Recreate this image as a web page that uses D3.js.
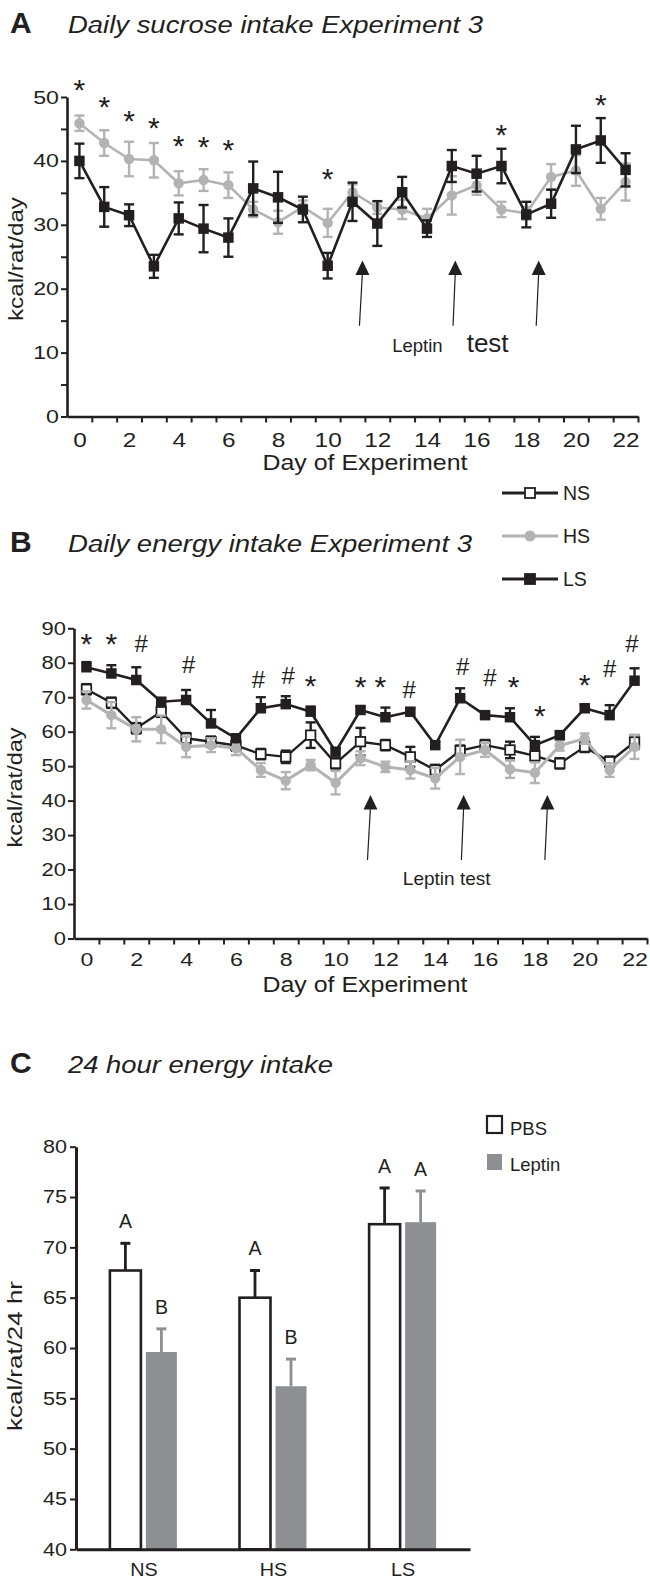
<!DOCTYPE html>
<html>
<head>
<meta charset="utf-8">
<script src="https://cdn.jsdelivr.net/npm/d3@7"></script>
<style>
  body { margin: 0; background: #fff; }
  svg text { font-family: "Liberation Sans", Arial, Helvetica, sans-serif; fill: #231f20; }
</style>
</head>
<body>
<svg id="fig" width="650" height="1583"></svg>
<script>
// ---- panel A: daily sucrose intake (kcal/rat/day), days 0..22
const days = d3.range(0, 23);
const sucroseHS    = [45.9, 42.8, 40.3, 40.1, 36.5, 37.0, 36.2, 32.4, 30.4, 32.8, 30.3, 35.1, 32.7, 32.4, 31.0, 34.6, 36.2, 32.4, 31.8, 37.5, 38.5, 32.5, 36.7];
const sucroseHSErr = [1.2, 2.0, 2.7, 2.7, 1.9, 1.7, 2.0, 1.2, 1.8, 1.0, 2.2, 1.2, 1.0, 1.5, 1.5, 3.0, 1.5, 1.2, 1.0, 2.0, 2.4, 1.7, 2.9];
const sucroseLS    = [40.0, 32.8, 31.5, 23.5, 31.0, 29.4, 28.0, 35.7, 34.3, 32.4, 23.6, 33.6, 30.2, 35.1, 29.4, 39.2, 38.0, 39.2, 31.6, 33.3, 41.8, 43.2, 38.6];
const sucroseLSErr = [2.7, 3.1, 1.7, 1.8, 2.5, 3.7, 3.0, 4.2, 4.0, 2.0, 2.0, 3.0, 3.5, 2.4, 1.3, 2.5, 2.8, 2.7, 2.0, 2.2, 3.7, 3.5, 2.6];
const sucroseStarDays  = [0, 1, 2, 3, 4, 5, 6, 10, 17, 21];
const sucroseStarLevel = [52.2, 49.5, 47.3, 46.3, 43.5, 43.2, 42.8, 38.3, 45.1, 49.8];

// ---- panel B: daily energy intake (kcal/rat/day)
const energyNS    = [72.3, 68.4, 61.0, 65.8, 58.1, 57.1, 56.0, 53.5, 52.7, 59.0, 50.8, 57.1, 56.1, 52.7, 48.9, 54.5, 56.1, 54.7, 53.0, 50.8, 55.6, 51.3, 57.0];
const energyNSErr = [1.5, 1.5, 1.5, 1.5, 1.5, 1.5, 1.5, 1.5, 1.8, 3.7, 1.5, 4.0, 1.5, 2.9, 1.5, 1.5, 1.5, 2.4, 1.5, 1.5, 1.5, 1.5, 2.0];
const energyHS    = [69.2, 64.8, 60.7, 60.7, 55.6, 56.1, 55.2, 48.9, 45.8, 50.3, 45.2, 52.3, 49.8, 48.9, 46.5, 52.7, 54.7, 49.1, 48.1, 56.0, 58.0, 48.9, 55.6];
const energyHSErr = [2.5, 3.8, 3.5, 4.0, 3.0, 2.0, 2.0, 2.0, 2.5, 1.5, 3.4, 2.0, 1.5, 2.5, 3.0, 5.0, 2.0, 2.5, 3.0, 1.5, 1.5, 2.0, 3.5];
const energyLS    = [78.7, 76.9, 75.0, 68.7, 69.2, 62.4, 58.1, 66.8, 68.0, 65.8, 54.2, 66.3, 64.2, 65.8, 56.1, 69.7, 64.8, 64.2, 56.1, 59.0, 66.8, 64.8, 74.8];
const energyLSErr = [1.5, 2.4, 3.7, 1.0, 2.9, 3.9, 1.0, 3.2, 2.3, 1.5, 1.0, 1.0, 2.8, 1.0, 1.0, 2.9, 1.0, 2.6, 2.4, 1.0, 1.0, 2.9, 3.6];
const energyMarkDays   = [0, 1, 2.2, 4.1, 6.9, 8.1, 9, 11, 11.8, 12.95, 15.1, 16.2, 17.15, 18.2, 20, 21, 21.9];
const energyMarkLevel  = [87.6, 87.6, 85.6, 79.6, 75.2, 76.4, 75.2, 75.0, 75.0, 72.1, 78.9, 75.8, 75.0, 66.5, 75.5, 78.4, 85.6];
const energyMarkSymbol = ['*', '*', '#', '#', '#', '#', '*', '*', '*', '#', '#', '#', '*', '*', '*', '#', '#'];

// leptin injections (arrow top / bottom in days)
const leptinArrowTop    = [11.4, 15.14, 18.5];
const leptinArrowBottom = [11.28, 15.05, 18.4];

// ---- panel C: 24 hour energy intake (kcal/rat/24 hr)
const groups     = ['NS', 'HS', 'LS'];
const pbsMean    = [67.7, 65.0, 72.3];
const pbsErr     = [2.7, 2.7, 3.6];
const leptinMean = [59.6, 56.2, 72.5];
const leptinErr  = [2.3, 2.7, 3.1];
const pbsLetter    = ['A', 'A', 'A'];
const leptinLetter = ['B', 'B', 'A'];

const ink = '#231f20';
const grey = '#b3b3b3';
const barGrey = '#8e8f92';
const svg = d3.select('#fig');

// fonts in the figure are wider than Arial
function widen(sel, k, origin) {
  return sel.style('transform-box', 'fill-box')
    .style('transform-origin', origin)
    .style('transform', 'scaleX(' + k + ')');
}

function heading(y, letter, title, len) {
  svg.append('text').attr('x', 10).attr('y', y)
    .attr('font-size', 30).attr('font-weight', 'bold').text(letter);
  svg.append('text').attr('x', 68).attr('y', y)
    .attr('font-size', 24.5).attr('font-style', 'italic')
    .attr('textLength', len).attr('lengthAdjust', 'spacingAndGlyphs').text(title);
}

function yTitle(cx, cy, label, len) {
  svg.append('text')
    .attr('transform', 'translate(' + cx + ',' + cy + ') rotate(-90)')
    .attr('text-anchor', 'middle').attr('dominant-baseline', 'central')
    .attr('font-size', 21).attr('textLength', len).attr('lengthAdjust', 'spacingAndGlyphs')
    .text(label);
}

function styleAxis(g, width) {
  g.select('.domain').attr('stroke', ink).attr('stroke-width', width);
  g.selectAll('.tick line').attr('stroke', ink).attr('stroke-width', 2);
  g.selectAll('text').attr('fill', ink).attr('font-family', null);
}

// day axes shared by panels A and B
function dayAxes(x, y, yTicks, yLabelled, fs, pad) {
  const y0 = y.range()[0];
  const gy = svg.append('g').attr('transform', 'translate(' + x.range()[0] + ',0)')
    .call(d3.axisLeft(y).tickValues(yTicks).tickSize(6).tickSizeOuter(0).tickPadding(2)
      .tickFormat(function(d) { return yLabelled.indexOf(d) >= 0 ? d : ''; }));
  styleAxis(gy, 2.6);
  gy.selectAll('text').attr('font-size', fs).call(widen, 1.22, '100% 50%');

  const gx = svg.append('g').attr('transform', 'translate(0,' + y0 + ')')
    .call(d3.axisBottom(x).tickValues(d3.range(0.5, 22.6, 1)).tickSize(6).tickSizeOuter(0).tickFormat(''));
  styleAxis(gx, 2.6);

  const gl = svg.append('g').attr('transform', 'translate(0,' + y0 + ')')
    .call(d3.axisBottom(x).tickValues(d3.range(0, 23, 2)).tickSize(0).tickPadding(pad));
  gl.select('.domain').remove();
  gl.selectAll('text').attr('fill', ink).attr('font-family', null).attr('font-size', fs + 1)
    .call(widen, 1.22, '50% 50%');

  svg.append('text').attr('x', 365).attr('y', y0 + 53)
    .attr('text-anchor', 'middle').attr('font-size', 22)
    .attr('textLength', 205).attr('lengthAdjust', 'spacingAndGlyphs')
    .text('Day of Experiment');
}

function drawSeries(x, y, mean, err, o) {
  const pts = days.map(function(d, i) { return { day: d, v: mean[i], e: err[i] }; });
  const g = svg.append('g');
  const eb = g.append('g').attr('stroke', o.color).attr('stroke-width', 2.4);
  eb.selectAll('line.stem').data(pts).join('line').attr('class', 'stem')
    .attr('x1', function(d) { return x(d.day); }).attr('x2', function(d) { return x(d.day); })
    .attr('y1', function(d) { return y(o.upOnly ? d.v : d.v - d.e); })
    .attr('y2', function(d) { return y(d.v + d.e); });
  eb.selectAll('line.top').data(pts).join('line').attr('class', 'top')
    .attr('x1', function(d) { return x(d.day) - 5; }).attr('x2', function(d) { return x(d.day) + 5; })
    .attr('y1', function(d) { return y(d.v + d.e); }).attr('y2', function(d) { return y(d.v + d.e); });
  if (!o.upOnly) {
    eb.selectAll('line.bot').data(pts).join('line').attr('class', 'bot')
      .attr('x1', function(d) { return x(d.day) - 5; }).attr('x2', function(d) { return x(d.day) + 5; })
      .attr('y1', function(d) { return y(d.v - d.e); }).attr('y2', function(d) { return y(d.v - d.e); });
  }
  g.append('path').datum(pts)
    .attr('d', d3.line().x(function(d) { return x(d.day); }).y(function(d) { return y(d.v); }))
    .attr('fill', 'none').attr('stroke', o.color).attr('stroke-width', o.lw);
  if (o.shape === 'circle') {
    g.selectAll('circle').data(pts).join('circle')
      .attr('cx', function(d) { return x(d.day); }).attr('cy', function(d) { return y(d.v); })
      .attr('r', 5.2).attr('fill', o.color);
  } else {
    g.selectAll('rect').data(pts).join('rect')
      .attr('x', function(d) { return x(d.day) - o.size / 2; })
      .attr('y', function(d) { return y(d.v) - o.size / 2; })
      .attr('width', o.size).attr('height', o.size)
      .attr('fill', o.fill).attr('stroke', ink).attr('stroke-width', o.fill === '#fff' ? 1.8 : 0);
  }
}

function arrows(x, y, top, bottom) {
  const g = svg.append('g');
  leptinArrowTop.forEach(function(d, i) {
    const tx = x(d), ty = y(top), bx = x(leptinArrowBottom[i]), by = y(bottom);
    g.append('line').attr('x1', tx).attr('y1', ty + 12).attr('x2', bx).attr('y2', by)
      .attr('stroke', ink).attr('stroke-width', 1.2);
    g.append('path').attr('d', 'M' + tx + ',' + ty + 'l7,14.5h-14z').attr('fill', ink);
  });
}

function marks(x, y, dayList, levels, symbols) {
  const sym = function(i) { return symbols ? symbols[i] : '*'; };
  svg.append('g').selectAll('text').data(dayList).join('text')
    .attr('x', function(d) { return x(d); })
    .attr('y', function(d, i) { return y(levels[i]) + (sym(i) === '*' ? 17 : 8.5); })
    .attr('text-anchor', 'middle')
    .attr('font-size', function(d, i) { return sym(i) === '*' ? 30 : 24; })
    .text(function(d, i) { return sym(i); });
}

// ================= panel A =================
const xA = d3.scaleLinear().domain([-0.5, 22.5]).range([67, 638]);
const yA = d3.scaleLinear().domain([0, 50]).range([416.5, 97]);
heading(33, 'A', 'Daily sucrose intake Experiment 3', 415);
dayAxes(xA, yA, d3.range(0, 51, 5), d3.range(0, 51, 10), 19, 16);
yTitle(15, 259, 'kcal/rat/day', 124);
drawSeries(xA, yA, sucroseHS, sucroseHSErr, { color: grey, lw: 2.6, shape: 'circle' });
drawSeries(xA, yA, sucroseLS, sucroseLSErr, { color: ink, lw: 2.6, shape: 'square', size: 10.5, fill: ink });
marks(xA, yA, sucroseStarDays, sucroseStarLevel);
arrows(xA, yA, 24.4, 14.2);
svg.append('text').attr('x', xA(12.6)).attr('y', yA(10.1)).attr('font-size', 18.5).text('Leptin');
svg.append('text').attr('x', xA(15.6)).attr('y', yA(10.1)).attr('font-size', 26).text('test');

// ================= panel B =================
const xB = d3.scaleLinear().domain([-0.5, 22.5]).range([74, 647]);
const yB = d3.scaleLinear().domain([0, 90]).range([938.5, 628.3]);
heading(552, 'B', 'Daily energy intake Experiment 3', 404);
dayAxes(xB, yB, d3.range(0, 91, 10), d3.range(0, 91, 10), 18, 14);
yTitle(14, 787.5, 'kcal/rat/day', 120);
drawSeries(xB, yB, energyNS, energyNSErr, { color: ink, lw: 2.4, shape: 'square', size: 9.5, fill: '#fff' });
drawSeries(xB, yB, energyHS, energyHSErr, { color: grey, lw: 3, shape: 'circle' });
drawSeries(xB, yB, energyLS, energyLSErr, { color: ink, lw: 2.6, shape: 'square', size: 10.5, fill: ink, upOnly: true });
marks(xB, yB, energyMarkDays, energyMarkLevel, energyMarkSymbol);
arrows(xB, yB, 41.6, 22.8);
svg.append('text').attr('x', xB(12.7)).attr('y', yB(15.5)).attr('font-size', 19).text('Leptin test');

// legend for A/B series
const legendRows = [
  { name: 'NS', color: ink, shape: 'square', fill: '#fff' },
  { name: 'HS', color: grey, shape: 'circle' },
  { name: 'LS', color: ink, shape: 'square', fill: ink }
];
const legY = d3.scalePoint().domain(legendRows.map(function(d) { return d.name; })).range([493, 579]);
const leg = svg.append('g').selectAll('g').data(legendRows).join('g')
  .attr('transform', function(d) { return 'translate(502,' + legY(d.name) + ')'; });
leg.append('line').attr('x1', 0).attr('x2', 56).attr('stroke', function(d) { return d.color; }).attr('stroke-width', 3);
leg.filter(function(d) { return d.shape === 'circle'; }).append('circle')
  .attr('cx', 28).attr('r', 5.5).attr('fill', grey);
leg.filter(function(d) { return d.shape === 'square'; }).append('rect')
  .attr('x', 23).attr('y', -5).attr('width', 10).attr('height', 10)
  .attr('fill', function(d) { return d.fill; }).attr('stroke', ink).attr('stroke-width', 1.8);
leg.append('text').attr('x', 61).attr('y', 7).attr('font-size', 19.5).text(function(d) { return d.name; });

// ================= panel C =================
const xC = d3.scalePoint().domain(groups).range([76, 470]).padding(0.52);
const yC = d3.scaleLinear().domain([40, 80]).range([1549.3, 1146.7]);
heading(1073, 'C', '24 hour energy intake', 265);
yTitle(14, 1356, 'kcal/rat/24 hr', 150);

const gyC = svg.append('g').attr('transform', 'translate(76,0)')
  .call(d3.axisLeft(yC).tickValues(d3.range(40, 81, 5)).tickSize(6).tickSizeOuter(0).tickPadding(3));
styleAxis(gyC, 3);
gyC.selectAll('text').attr('font-size', 18).call(widen, 1.2, '100% 50%');

const barW = 31, offset = 18;
const bars = groups.map(function(g, i) {
  return [
    { group: g, kind: 'pbs', dx: -offset, v: pbsMean[i], e: pbsErr[i], letter: pbsLetter[i] },
    { group: g, kind: 'leptin', dx: offset, v: leptinMean[i], e: leptinErr[i], letter: leptinLetter[i] }
  ];
}).flat();
const bc = function(d) { return xC(d.group) + d.dx; };

const gBars = svg.append('g');
gBars.selectAll('line.stem').data(bars).join('line').attr('class', 'stem')
  .attr('x1', bc).attr('x2', bc)
  .attr('y1', function(d) { return yC(d.v); }).attr('y2', function(d) { return yC(d.v + d.e); })
  .attr('stroke', function(d) { return d.kind === 'pbs' ? ink : barGrey; }).attr('stroke-width', 2.8);
gBars.selectAll('line.cap').data(bars).join('line').attr('class', 'cap')
  .attr('x1', function(d) { return bc(d) - 5; }).attr('x2', function(d) { return bc(d) + 5; })
  .attr('y1', function(d) { return yC(d.v + d.e); }).attr('y2', function(d) { return yC(d.v + d.e); })
  .attr('stroke', function(d) { return d.kind === 'pbs' ? ink : barGrey; }).attr('stroke-width', 3);
gBars.selectAll('rect').data(bars).join('rect')
  .attr('x', function(d) { return bc(d) - barW / 2; })
  .attr('y', function(d) { return yC(d.v); })
  .attr('width', barW)
  .attr('height', function(d) { return yC(40) - yC(d.v); })
  .attr('fill', function(d) { return d.kind === 'pbs' ? '#fff' : barGrey; })
  .attr('stroke', function(d) { return d.kind === 'pbs' ? ink : 'none'; })
  .attr('stroke-width', 2.6);
gBars.selectAll('text').data(bars).join('text')
  .attr('x', bc).attr('y', function(d) { return yC(d.v + d.e) - 15; })
  .attr('text-anchor', 'middle').attr('font-size', 19.5)
  .text(function(d) { return d.letter; });

const gxC = svg.append('g').attr('transform', 'translate(0,' + yC(40) + ')')
  .call(d3.axisBottom(xC).tickSize(0).tickSizeOuter(0).tickPadding(14));
styleAxis(gxC, 3);
gxC.selectAll('text').attr('font-size', 18).call(widen, 1.1, '50% 50%');

// legend for C
const legC = svg.append('g').selectAll('g')
  .data([{ name: 'PBS', fill: '#fff' }, { name: 'Leptin', fill: barGrey }]).join('g')
  .attr('transform', function(d, i) { return 'translate(487,' + (1116 + i * 38) + ')'; });
legC.append('rect').attr('width', 15).attr('height', function(d, i) { return i ? 16 : 17; })
  .attr('fill', function(d) { return d.fill; })
  .attr('stroke', function(d, i) { return i ? 'none' : ink; }).attr('stroke-width', 2.2);
legC.append('text').attr('x', 23).attr('y', function(d, i) { return i ? 17 : 19; })
  .attr('font-size', 18.5).text(function(d) { return d.name; });
</script>
</body>
</html>
